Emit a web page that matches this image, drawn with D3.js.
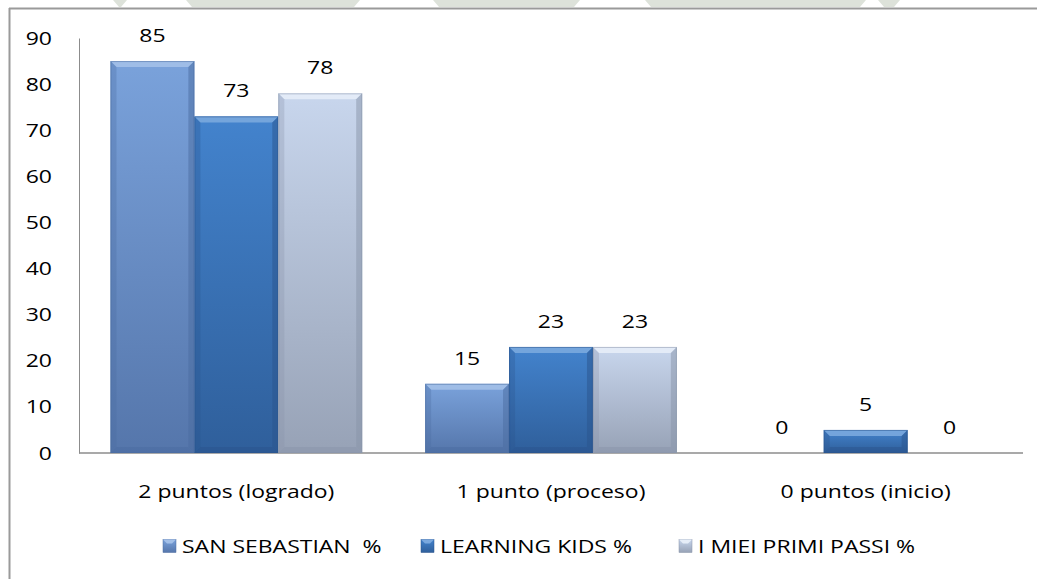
<!DOCTYPE html>
<html>
<head>
<meta charset="utf-8">
<script src="https://cdn.jsdelivr.net/npm/d3@7"></script>
<style>
  html, body { margin: 0; padding: 0; background: #ffffff; }
  svg { display: block; }
  text { font-family: "Open Sans", Lato, sans-serif; fill: #000; }
</style>
</head>
<body>
<svg id="chart" width="1037" height="579"></svg>
<script>
const categories = ["2 puntos (logrado)", "1 punto (proceso)", "0 puntos (inicio)"];
const seriesNames = ["SAN SEBASTIAN  %", "LEARNING KIDS %", "I MIEI PRIMI PASSI %"];
const sanSebastian = [85, 15, 0];
const learningKids = [73, 23, 5];
const mieiPrimiPassi = [78, 23, 0];
const yTicks = [0, 10, 20, 30, 40, 50, 60, 70, 80, 90];
const seriesValues = [sanSebastian, learningKids, mieiPrimiPassi];

const colors = [
  { top: "#7aa2db", bottom: "#5576ab", bevel: "#a3c0e8", edge: "#4a6ba0" },
  { top: "#4383cd", bottom: "#2f5f9b", bevel: "#7aa8de", edge: "#2a538c" },
  { top: "#c8d6ed", bottom: "#97a2b6", bevel: "#e6edf8", edge: "#8893a8" }
];

const svg = d3.select("#chart");
const defs = svg.append("defs");
colors.forEach((c, i) => {
  const g = defs.append("linearGradient").attr("id", "grad" + i)
    .attr("x1", 0).attr("y1", 0).attr("x2", 0).attr("y2", 1);
  g.append("stop").attr("offset", "0%").attr("stop-color", c.top);
  g.append("stop").attr("offset", "100%").attr("stop-color", c.bottom);
});

// faint watermark fragments above the chart frame
const wm = [[113, 127], [186, 360], [433, 580], [645, 866], [878, 900]];
svg.append("g").selectAll("path").data(wm).join("path")
  .attr("d", d => `M${d[0]},0H${d[1]}L${d[1] - 6},7H${d[0] + 6}Z`)
  .attr("fill", "#dde2da");

// chart frame
svg.append("line").attr("x1", 9).attr("x2", 1037).attr("y1", 8.5).attr("y2", 8.5)
  .attr("stroke", "#9a9a9a").attr("stroke-width", 2);
svg.append("line").attr("x1", 9.5).attr("x2", 9.5).attr("y1", 8).attr("y2", 579)
  .attr("stroke", "#9a9a9a").attr("stroke-width", 2);

const plot = { left: 79, right: 1023, top: 38, bottom: 453 };

const y = d3.scaleLinear().domain([0, 90]).range([plot.bottom, plot.top]);
const x0 = d3.scaleBand().domain(categories).range([plot.left, plot.right]).paddingInner(0.2).paddingOuter(0.1);
const x1 = d3.scaleBand().domain(seriesNames).range([0, x0.bandwidth()]).padding(0);

const FS = "19px";
const SX = 1.21;

// y axis
const yAxis = d3.axisLeft(y).tickValues(yTicks).tickSize(0).tickPadding(27);
const gy = svg.append("g").attr("transform", `translate(${plot.left},0)`).call(yAxis);
gy.select(".domain").attr("stroke", "#8c8c8c").attr("stroke-width", 1);
gy.selectAll("text").style("font-family", "'Open Sans', sans-serif").style("font-size", FS)
  .attr("fill", "#000").attr("dy", null).attr("x", 0).attr("y", 0)
  .attr("transform", `translate(-27,6) scale(${SX},1)`);

// x axis
const xAxis = d3.axisBottom(x0).tickSize(0).tickPadding(0);
const gx = svg.append("g").attr("transform", `translate(0,${plot.bottom})`).call(xAxis);
gx.select(".domain").attr("stroke", "#8c8c8c").attr("stroke-width", 1.5).attr("d", `M${plot.left},0H${plot.right}`);
gx.selectAll("text").style("font-family", "'Open Sans', sans-serif").style("font-size", FS)
  .attr("fill", "#000").attr("dy", null).attr("x", 0).attr("y", 0)
  .attr("transform", `translate(0,45) scale(${SX},1)`);

// bars
const data = [];
categories.forEach((cat, ci) => {
  seriesNames.forEach((s, si) => {
    data.push({ cat, s, si, v: seriesValues[si][ci] });
  });
});

const bars = svg.append("g").selectAll("g").data(data).join("g")
  .attr("transform", d => `translate(${x0(d.cat) + x1(d.s)},0)`);

bars.each(function(d) {
  const g = d3.select(this);
  const w = x1.bandwidth();
  const top = y(d.v);
  const h = y(0) - top;
  const c = colors[d.si];
  if (h <= 0) return;
  const b = Math.min(6, h / 2);
  g.append("rect").attr("x", 0).attr("y", top).attr("width", w).attr("height", h)
    .attr("fill", `url(#grad${d.si})`);
  g.append("path").attr("d", `M0,${top}H${w}L${w - b},${top + b}H${b}Z`).attr("fill", c.bevel).attr("opacity", 0.9);
  g.append("path").attr("d", `M0,${top}L${b},${top + b}V${top + h - b}L0,${top + h}Z`).attr("fill", c.edge).attr("opacity", 0.3);
  g.append("path").attr("d", `M${w},${top}L${w - b},${top + b}V${top + h - b}L${w},${top + h}Z`).attr("fill", c.edge).attr("opacity", 0.5);
  g.append("path").attr("d", `M0,${top + h}L${b},${top + h - b}H${w - b}L${w},${top + h}Z`).attr("fill", c.edge).attr("opacity", 0.45);
  g.append("rect").attr("x", 0.5).attr("y", top + 0.5).attr("width", w - 1).attr("height", h - 1)
    .attr("fill", "none").attr("stroke", c.edge).attr("stroke-opacity", 0.5);
});

// value labels
svg.append("g").selectAll("text").data(data).join("text")
  .attr("transform", d => `translate(${x0(d.cat) + x1(d.s) + x1.bandwidth() / 2},${y(d.v) - 19}) scale(${SX},1)`)
  .attr("text-anchor", "middle")
  .style("font-size", FS)
  .text(d => d.v);

// legend
const legendX = [163, 421, 679];
const legendY = 546;
const lg = svg.append("g").selectAll("g").data(seriesNames).join("g")
  .attr("transform", (d, i) => `translate(${legendX[i]},${legendY})`);
lg.append("rect").attr("x", 0).attr("y", -6.5).attr("width", 13).attr("height", 13)
  .attr("fill", (d, i) => `url(#grad${i})`).attr("stroke", (d, i) => colors[i].edge).attr("stroke-width", 0.5);
lg.append("path").attr("d", "M0,-6.5H13L9,-2.5H4Z").attr("fill", (d, i) => colors[i].bevel);
lg.append("text").attr("transform", "translate(19,7) scale(" + SX + ",1)").attr("xml:space", "preserve")
  .style("white-space", "pre").style("font-size", FS).text(d => d);
</script>
</body>
</html>
